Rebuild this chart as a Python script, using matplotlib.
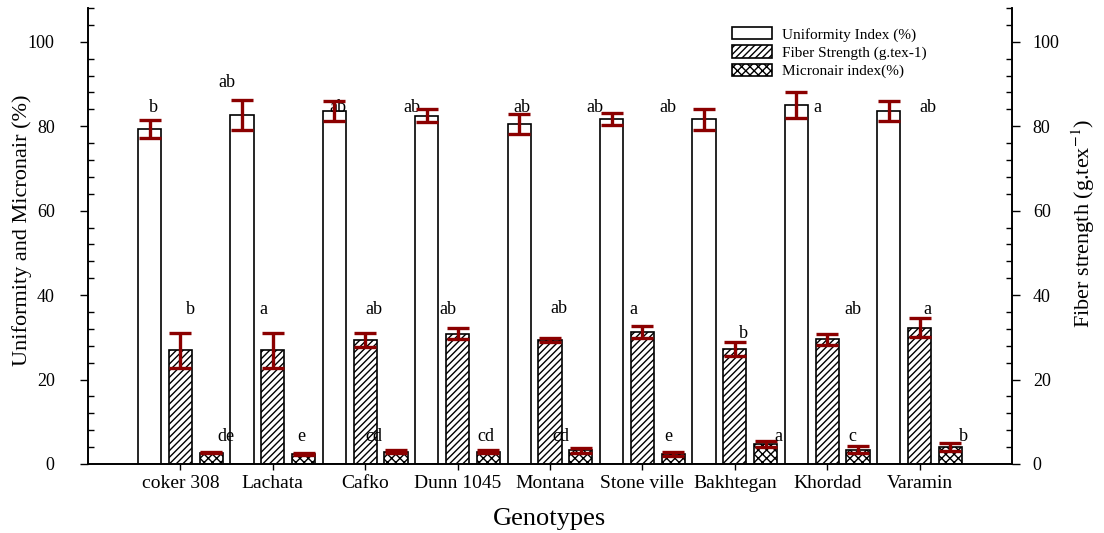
import numpy as np
import matplotlib
matplotlib.use("Agg")
import matplotlib.pyplot as plt
from matplotlib.ticker import MultipleLocator
from matplotlib.patches import Patch

plt.rcParams['font.family'] = ['Liberation Serif', 'DejaVu Serif']
plt.rcParams['mathtext.fontset'] = 'stix'
plt.rcParams['hatch.linewidth'] = 1.0

genotypes = ['coker 308', 'Lachata', 'Cafko', 'Dunn 1045', 'Montana',
             'Stone ville', 'Bakhtegan', 'Khordad', 'Varamin']

uniformity = [79.3, 82.7, 83.6, 82.5, 80.6, 81.7, 81.6, 85.0, 83.6]
uniformity_err = [2.2, 3.5, 2.4, 1.6, 2.4, 1.4, 2.4, 3.1, 2.4]
strength = [26.9, 26.9, 29.4, 30.9, 29.4, 31.3, 27.2, 29.5, 32.3]
strength_err = [4.2, 4.2, 1.6, 1.2, 0.5, 1.5, 1.6, 1.25, 2.2]
micronair = [2.7, 2.4, 2.9, 2.9, 3.2, 2.4, 4.7, 3.4, 4.0]
micronair_err = [0.2, 0.2, 0.3, 0.4, 0.6, 0.5, 0.65, 0.9, 0.9]

uni_letters = ['b', 'ab', 'ab', 'ab', 'ab', 'ab', 'ab', 'a', 'ab']
str_letters = ['b', 'a', 'ab', 'ab', 'ab', 'a', 'b', 'ab', 'a']
mic_letters = ['de', 'e', 'cd', 'cd', 'cd', 'e', 'a', 'c', 'b']

# letter placement (offset from bar centre, height)
uni_dx = [0.04, -0.16, 0.04, -0.16, 0.03, -0.18, -0.39, 0.23, 0.42]
uni_y = [84.5, 90.3, 84.5, 84.5, 84.5, 84.5, 84.5, 84.5, 84.5]
str_dx = [0.11, -0.10, 0.09, -0.10, 0.10, -0.10, 0.09, 0.28, 0.08]
str_y = [36.7, 36.7, 36.5, 36.7, 36.9, 36.7, 30.8, 36.7, 36.7]
mic_dx = [0.16, -0.02, -0.24, -0.03, -0.22, -0.05, 0.14, -0.06, 0.14]
mic_y = [6.6, 6.6, 6.6, 6.6, 6.6, 6.4, 6.4, 6.6, 6.6]

x = np.arange(len(genotypes))
w = 0.25
off = 0.333
err_color = '#8b0000'
ekw = dict(ecolor=err_color, elinewidth=2.4, capsize=8, capthick=2.4, zorder=3)

fig = plt.figure(figsize=(11.04, 5.33), dpi=100)
ax = fig.add_axes([88 / 1104, 69 / 533, 924 / 1104, 456 / 533])
ax2 = ax.twinx()

ax.bar(x - off, uniformity, w, yerr=uniformity_err, color='white',
       edgecolor='black', linewidth=1.2, error_kw=ekw, zorder=2)
ax2.bar(x, strength, w, yerr=strength_err, color='white', hatch='/////',
        edgecolor='black', linewidth=1.2, error_kw=ekw, zorder=2)
ax.bar(x + off, micronair, w, yerr=micronair_err, color='white', hatch='xxxx',
       edgecolor='black', linewidth=1.2, error_kw=ekw, zorder=2)

fs = 13
for i in range(len(genotypes)):
    ax.text(x[i] - off + uni_dx[i], uni_y[i], uni_letters[i], ha='center', va='center', fontsize=fs, zorder=2.5)
    ax2.text(x[i] + str_dx[i], str_y[i], str_letters[i], ha='center', va='center', fontsize=fs, zorder=5)
    ax2.text(x[i] + off + mic_dx[i], mic_y[i], mic_letters[i], ha='center', va='center', fontsize=fs, zorder=5)

for a in (ax, ax2):
    a.set_ylim(0, 108)
    a.set_xlim(-1, 9)
    a.yaxis.set_major_locator(MultipleLocator(20))
    a.yaxis.set_minor_locator(MultipleLocator(4))
    a.spines['top'].set_visible(False)
    for s in ('left', 'right', 'bottom'):
        a.spines[s].set_linewidth(1.2)

ax.tick_params(axis='y', which='major', direction='out', length=6, width=1, labelsize=13, pad=18)
ax.tick_params(axis='y', which='minor', direction='in', length=4.5, width=1)
ax2.tick_params(axis='y', which='major', direction='out', length=6, width=1, labelsize=13, pad=9)
ax2.tick_params(axis='y', which='minor', direction='in', length=4.5, width=1)
ax.set_xticks(x)
ax.set_xticklabels(genotypes, fontsize=14)
ax.tick_params(axis='x', direction='out', length=4, width=1, pad=4)

handles = [Patch(facecolor='white', edgecolor='black', linewidth=1.2),
           Patch(facecolor='white', edgecolor='black', hatch='/////', linewidth=1.2),
           Patch(facecolor='white', edgecolor='black', hatch='xxxx', linewidth=1.2)]
labels = ['Uniformity Index (%)', 'Fiber Strength (g.tex-1)', 'Micronair index(%)']
fig.legend(handles, labels, loc='upper left', bbox_to_anchor=(732 / 1104, 1 - 27 / 533),
           frameon=False, fontsize=11, handlelength=2.6, handleheight=0.85,
           labelspacing=0.25, handletextpad=0.7, borderpad=0, borderaxespad=0)

fig.text(549 / 1104, 1 - 519 / 533, 'Genotypes', ha='center', va='center', fontsize=19)
fig.text(22 / 1104, 1 - 230 / 533, 'Uniformity and Micronair (%)', rotation=90,
         ha='center', va='center', fontsize=16)
fig.text(1083 / 1104, 1 - 223 / 533, 'Fiber strength (g.tex$^{-1}$)', rotation=90,
         ha='center', va='center', fontsize=16)

fig.savefig('out.png', dpi=100)
